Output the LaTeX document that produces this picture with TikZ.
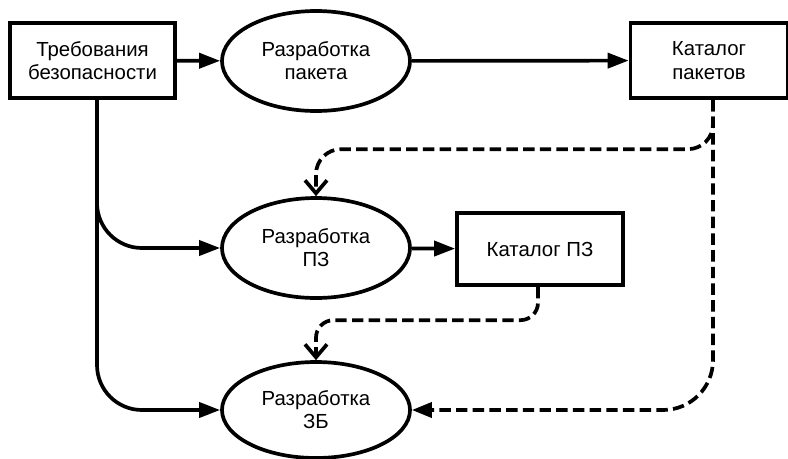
\documentclass[tikz,border=0pt]{standalone}
\usepackage{fontspec}
\setmainfont{Liberation Sans}
\usetikzlibrary{shapes.geometric,arrows.meta}
\begin{document}
\begin{tikzpicture}[
    x=0.2mm, y=-0.2mm,
    every node/.style={draw, line width=2.1pt, align=center, inner sep=0,
      font=\fontsize{11.6}{13.2}\selectfont},
    box/.style={rectangle, minimum height=1.5cm},
    proc/.style={ellipse, minimum width=3.76cm, minimum height=2cm},
    flow/.style={line width=2.1pt, -{Triangle[length=0.42cm, width=0.3cm]}},
    feed/.style={line width=2.1pt, dash pattern=on 6.5pt off 3pt},
    barb/.style={-{Straight Barb[length=0.26cm, width=0.44cm]}}
  ]
  \useasboundingbox (0,0) rectangle (788,458);
  \node[box, minimum width=3.3cm] (req) at (92.5,60.5) {Требования\\безопасности};
  \node[proc] (pkg) at (316,61) {Разработка\\пакета};
  \node[box, minimum width=3.14cm] (pkgcat) at (709,60.5) {Каталог\\пакетов};
  \node[proc] (pz) at (316,248) {Разработка\\ПЗ};
  \node[box, minimum width=3.32cm, minimum height=1.44cm] (pzcat) at (540,249) {Каталог ПЗ};
  \node[proc, minimum height=1.92cm] (zb) at (316,410) {Разработка\\ЗБ};

  \draw[flow] (req) -- (pkg);
  \draw[flow] (pkg) -- (pkgcat);
  \draw[flow] (pz) -- (pzcat);
  \draw[flow, rounded corners=0.9cm] ([xshift=0.9mm]req.south) |- (pz.west);
  \draw[flow, rounded corners=0.9cm] ([xshift=0.9mm]req.south) |- (zb.west);

  \draw[feed, barb, rounded corners=0.5cm] ([xshift=0.8mm]pkgcat.south)
    |- ([yshift=0.94cm]pz.north) -- (pz.north);
  \draw[feed, barb, rounded corners=0.35cm] ([xshift=-0.4mm]pzcat.south)
    |- ([yshift=0.8cm]zb.north) -- (zb.north);
  \draw[feed, -{Triangle[length=0.4cm, width=0.3cm]}, rounded corners=1cm]
    ([xshift=0.8mm]pkgcat.south) |- (zb.east);
\end{tikzpicture}
\end{document}
